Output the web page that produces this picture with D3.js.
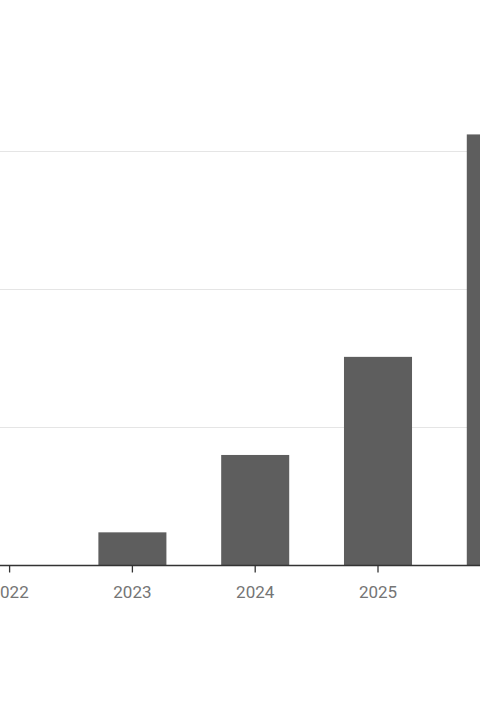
<!DOCTYPE html>
<html>
<head>
<meta charset="utf-8">
<script src="https://cdn.jsdelivr.net/npm/d3@7"></script>
<style>
html,body{margin:0;padding:0;background:#fff;overflow:hidden;}
svg{display:block;}
</style>
</head>
<body>
<svg id="chart" width="480" height="720"></svg>
<script>
const years = ["2022", "2023", "2024", "2025", "2026"];
const values = [0, 2.4, 8.0, 15.1, 31.2];
const gridTicks = [0, 10, 20, 30];

const svg = d3.select("#chart");
const W = 480, H = 720;
const step = 122.8;
const firstCenter = 9.6;
const x = d3.scaleBand()
  .domain(years)
  .range([firstCenter - step / 2, firstCenter - step / 2 + step * years.length])
  .paddingInner(0.446)
  .paddingOuter(0.223);

const y = d3.scaleLinear().domain([0, 30]).range([565.5, 151]);

// gridlines
svg.append("g")
  .selectAll("line")
  .data(gridTicks.filter(d => d > 0))
  .join("line")
  .attr("x1", -200).attr("x2", W + 200)
  .attr("y1", d => Math.round(y(d)) + 0.5)
  .attr("y2", d => Math.round(y(d)) + 0.5)
  .attr("stroke", "#e5e5e5")
  .attr("stroke-width", 1);

// bars
svg.append("g")
  .selectAll("rect")
  .data(years.map((k, i) => ({k, v: values[i]})))
  .join("rect")
  .attr("x", d => x(d.k))
  .attr("width", x.bandwidth())
  .attr("y", d => y(d.v))
  .attr("height", d => y(0) - y(d.v))
  .attr("fill", "#5e5e5e");

// x axis
const axis = svg.append("g")
  .attr("transform", `translate(0,${y(0)})`)
  .call(d3.axisBottom(x).tickSizeOuter(0).tickSize(7).tickPadding(13));
axis.select(".domain").attr("stroke", "#333").attr("stroke-width", 1.3)
  .attr("d", `M-200,0H${W + 200}`);
axis.selectAll(".tick line").attr("stroke", "#333").attr("stroke-width", 1.3);
axis.selectAll(".tick text")
  .attr("fill", "#757575")
  .style("font-family", "Roboto, sans-serif")
  .style("font-size", "17px");
</script>
</body>
</html>
